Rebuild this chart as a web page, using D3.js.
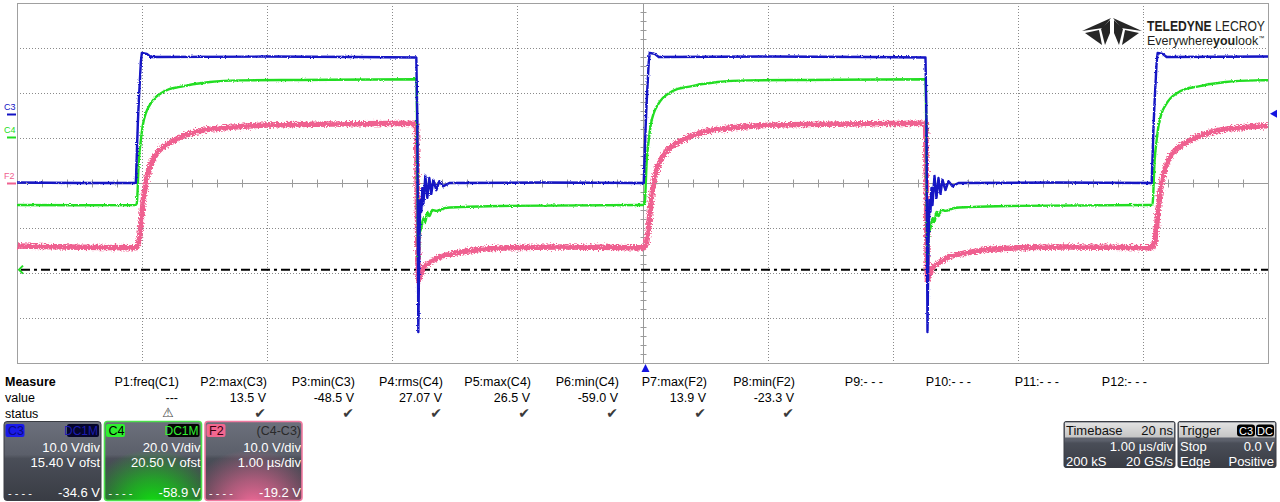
<!DOCTYPE html>
<html><head><meta charset="utf-8">
<script src="https://cdn.jsdelivr.net/npm/d3@7"></script>
<style>
body{margin:0;background:#fff;}
svg{display:block;font-family:"Liberation Sans",Arial,sans-serif;}
</style>
</head><body>
<svg id="chart" width="1280" height="502"></svg>
<script>
// ---------------- DATA ----------------
const timeDomain = [-5, 5];            // µs, 1.00 µs/div, 10 divisions
const channelNames = ["C3", "C4", "F2"];
const voltsPerDiv = [10, 20, 10];
const voltOffsets = [15.40, 20.50, 0];

// C3 trace: [time µs, volts]
const c3Trace = [
 [-5.00,-15.3],[-4.50,-15.4],[-4.050,-15.4],[-4.034,-2.1],[-4.026,3.0],[-4.010,11.5],[-4.002,13.5],
 [-3.962,13.3],[-3.930,12.6],[-3.00,12.7],[-2.30,12.6],[-1.808,12.5],[-1.800,-1.4],[-1.792,-48.5],
 [-1.784,-28.1],[-1.776,-19.2],[-1.768,-21.8],[-1.760,-16.5],[-1.752,-20.3],[-1.736,-13.8],[-1.720,-18.7],
 [-1.704,-14.3],[-1.688,-17.8],[-1.672,-14.7],[-1.648,-17.0],[-1.624,-15.0],[-1.592,-16.1],[-1.544,-15.4],
 [-0.80,-15.3],[0.010,-15.4],[0.026,-2.1],[0.034,3.0],[0.050,11.5],[0.058,13.5],[0.098,13.3],[0.130,12.6],
 [1.00,12.7],[1.80,12.6],[2.262,12.5],[2.270,-1.4],[2.278,-48.5],[2.286,-28.1],[2.294,-19.2],[2.302,-21.8],
 [2.310,-16.5],[2.318,-20.3],[2.334,-13.8],[2.350,-18.7],[2.366,-14.3],[2.382,-17.8],[2.398,-14.7],
 [2.422,-17.0],[2.446,-15.0],[2.478,-16.1],[2.526,-15.4],[3.30,-15.3],[4.070,-15.4],[4.086,-2.1],
 [4.094,3.0],[4.110,11.5],[4.118,13.5],[4.158,13.3],[4.190,12.6],[5.00,12.7]
];
// C4 trace
const c4Trace = [
 [-5.00,-30.3],[-4.50,-30.4],[-4.050,-30.3],[-4.042,-29.4],[-4.026,-10.3],[-4.010,-1.4],[-3.994,5.3],
 [-3.970,10.6],[-3.938,14.2],[-3.898,17.3],[-3.858,19.1],[-3.778,21.3],[-3.698,22.2],[-3.578,23.5],
 [-3.458,24.4],[-3.218,25.1],[-2.738,25.3],[-1.808,25.6],[-1.800,-5.8],[-1.792,-59.0],[-1.784,-43.6],
 [-1.768,-40.5],[-1.752,-36.1],[-1.736,-37.8],[-1.720,-33.4],[-1.704,-35.2],[-1.680,-32.5],[-1.648,-32.9],
 [-1.576,-31.6],[-1.456,-31.2],[-1.136,-30.7],[-0.016,-30.3],[0.010,-30.3],[0.018,-29.4],[0.034,-10.3],
 [0.050,-1.4],[0.066,5.3],[0.090,10.6],[0.122,14.2],[0.162,17.3],[0.202,19.1],[0.282,21.3],[0.362,22.2],
 [0.482,23.5],[0.602,24.4],[0.842,25.1],[1.322,25.3],[2.262,25.6],[2.270,-5.8],[2.278,-59.0],[2.286,-43.6],
 [2.302,-40.5],[2.318,-36.1],[2.334,-37.8],[2.350,-33.4],[2.366,-35.2],[2.390,-32.5],[2.422,-32.9],
 [2.494,-31.6],[2.614,-31.2],[2.934,-30.7],[4.054,-30.3],[4.070,-30.3],[4.078,-29.4],[4.094,-10.3],
 [4.110,-1.4],[4.126,5.3],[4.150,10.6],[4.182,14.2],[4.222,17.3],[4.262,19.1],[4.342,21.3],[4.422,22.2],
 [4.542,23.5],[4.662,24.4],[4.902,25.1],[5.00,25.15]
];
// F2 = C4-C3 trace
const f2Trace = [
 [-5.00,-14.0],[-4.50,-14.3],[-4.050,-14.4],[-4.034,-13.8],[-4.018,-11.6],[-4.002,-7.1],[-3.986,-2.9],
 [-3.970,0.2],[-3.946,2.9],[-3.914,5.1],[-3.874,6.9],[-3.810,8.4],[-3.690,10.2],[-3.530,11.6],[-3.290,12.4],
 [-2.970,12.9],[-2.490,13.1],[-1.808,13.3],[-1.800,-3.8],[-1.792,-21.5],[-1.776,-20.6],[-1.760,-19.3],
 [-1.736,-18.4],[-1.696,-17.6],[-1.616,-16.4],[-1.496,-15.6],[-1.336,-14.9],[-1.056,-14.4],[-0.656,-14.2],
 [0.010,-14.4],[0.026,-13.8],[0.042,-11.6],[0.058,-7.1],[0.074,-2.9],[0.090,0.2],[0.114,2.9],[0.146,5.1],
 [0.186,6.9],[0.250,8.4],[0.370,10.2],[0.530,11.6],[0.770,12.4],[1.090,12.9],[1.570,13.1],[2.262,13.3],
 [2.270,-3.8],[2.278,-21.5],[2.294,-20.6],[2.310,-19.3],[2.334,-18.4],[2.374,-17.6],[2.454,-16.4],
 [2.574,-15.6],[2.734,-14.9],[3.014,-14.4],[3.414,-14.2],[4.070,-14.4],[4.086,-13.8],[4.102,-11.6],
 [4.118,-7.1],[4.134,-2.9],[4.150,0.2],[4.174,2.9],[4.206,5.1],[4.246,6.9],[4.310,8.4],[4.430,10.2],
 [4.590,11.6],[4.830,12.4],[5.00,12.7]
];
const cursorLevelC4 = -59.0;   // dash-dot level line (C4 volts)
const triggerLevelC3 = 0.0;    // trigger level (C3 volts)
const triggerTime = 0;         // µs

// Measurement table
const measureNames = ["P1:freq(C1)","P2:max(C3)","P3:min(C3)","P4:rms(C4)","P5:max(C4)","P6:min(C4)",
  "P7:max(F2)","P8:min(F2)","P9:- - -","P10:- - -","P11:- - -","P12:- - -"];
const measureValues = ["---","13.5 V","-48.5 V","27.07 V","26.5 V","-59.0 V","13.9 V","-23.3 V","","","",""];
const measureStatus = ["warn","ok","ok","ok","ok","ok","ok","ok","","","",""];

// Channel descriptor boxes
const boxLabels = ["C3","C4","F2"];
const boxTags = ["DC1M","DC1M","(C4-C3)"];
const boxLine1 = ["10.0 V/div","20.0 V/div","10.0 V/div"];
const boxLine2 = ["15.40 V ofst","20.50 V ofst","1.00 µs/div"];
const boxReadout = ["-34.6 V","-58.9 V","-19.2 V"];

// Timebase / trigger
const timebaseRows = [["Timebase","20 ns"],["","1.00 µs/div"],["200 kS","20 GS/s"]];
const triggerRows = [["Trigger",""],["Stop","0.0 V"],["Edge","Positive"]];
const triggerTags = ["C3","DC"];

// ---------------- DRAW ----------------
const svg = d3.select("#chart");
const plot = {left:17, right:1268, top:3, bottom:363};
const colors = {C3:"#1212c4", C4:"#22dd22", F2:"#ef6190"};

const x = d3.scaleLinear().domain(timeDomain).range([plot.left, plot.right]);
const divY = d3.scaleLinear().domain([-4,4]).range([plot.bottom, plot.top]);
const yScales = channelNames.map((n,i)=>d3.scaleLinear()
  .domain([-voltOffsets[i]-4*voltsPerDiv[i], -voltOffsets[i]+4*voltsPerDiv[i]])
  .range([plot.bottom, plot.top]));
const [yC3, yC4, yF2] = yScales;

const defs = svg.append("defs");
defs.append("clipPath").attr("id","plotClip").append("rect")
  .attr("x",plot.left).attr("y",plot.top).attr("width",plot.right-plot.left).attr("height",plot.bottom-plot.top);

// acquisition-noise look (render effect only)
function noiseFilter(id, freq, scale, seed){
  const f = defs.append("filter").attr("id",id).attr("x","-2%").attr("y","-10%").attr("width","104%").attr("height","120%");
  f.append("feTurbulence").attr("type","fractalNoise").attr("baseFrequency",freq).attr("numOctaves",2).attr("seed",seed).attr("result","n");
  f.append("feDisplacementMap").attr("in","SourceGraphic").attr("in2","n").attr("scale",scale)
    .attr("xChannelSelector","R").attr("yChannelSelector","G");
}
noiseFilter("noisePink","0.6 0.9",6,3);
noiseFilter("noiseGreen","0.6 0.9",2.5,5);
noiseFilter("noiseBlue","0.6 0.9",2.5,7);

// grid
const g = svg.append("g");
const xDivs = x.ticks(10);
const yDivs = divY.ticks(8);
g.selectAll("line.vg").data(xDivs.filter(d=>d!==0 && d!==-5 && d!==5)).join("line")
  .attr("x1",d=>Math.round(x(d))+0.5).attr("x2",d=>Math.round(x(d))+0.5)
  .attr("y1",plot.top).attr("y2",plot.bottom)
  .attr("stroke","#8a8a8a").attr("stroke-dasharray","1,2");
g.selectAll("line.hg").data(yDivs.filter(d=>d!==0 && d!==-4 && d!==4)).join("line")
  .attr("y1",d=>Math.round(divY(d))+0.5).attr("y2",d=>Math.round(divY(d))+0.5)
  .attr("x1",plot.left).attr("x2",plot.right)
  .attr("stroke","#8a8a8a").attr("stroke-dasharray","1,2");
const cx = Math.round(x(0))+0.5, cy = Math.round(divY(0))+0.5;
g.append("line").attr("x1",cx).attr("x2",cx).attr("y1",plot.top).attr("y2",plot.bottom).attr("stroke","#9a9a9a");
g.append("line").attr("y1",cy).attr("y2",cy).attr("x1",plot.left).attr("x2",plot.right).attr("stroke","#9a9a9a");
const minorX = d3.range(-25,26).map(i=>i/5).filter(d=>Math.abs(d*5)%5!==0);
g.selectAll("line.mx").data(minorX).join("line")
  .attr("x1",d=>Math.round(x(d))+0.5).attr("x2",d=>Math.round(x(d))+0.5)
  .attr("y1",cy-4).attr("y2",cy+4).attr("stroke","#9a9a9a");
const minorY = d3.range(-20,21).map(i=>i/5).filter(d=>Math.abs(d*5)%5!==0);
g.selectAll("line.my").data(minorY).join("line")
  .attr("y1",d=>Math.round(divY(d))+0.5).attr("y2",d=>Math.round(divY(d))+0.5)
  .attr("x1",cx-3).attr("x2",cx+3).attr("stroke","#9a9a9a");
g.append("rect").attr("x",plot.left+0.5).attr("y",plot.top+0.5)
  .attr("width",plot.right-plot.left).attr("height",plot.bottom-plot.top)
  .attr("fill","none").attr("stroke","#a0a0a0");

// logo
const logo = svg.append("g");
logo.append("rect").attr("x",1080).attr("y",14).attr("width",188).attr("height",33).attr("fill","#fff");
const lg = "#262626";
const ic = 1112, it = 18;
[
 [[ic-1,it],[ic-30,it+13],[ic-9,it+10]],
 [[ic+1,it],[ic+30,it+13],[ic+9,it+10]],
 [[ic-2,it+2],[ic-11,it+11],[ic-7,it+27],[ic-2,it+15]],
 [[ic+2,it+2],[ic+11,it+11],[ic+7,it+27],[ic+2,it+15]],
 [[ic-13,it+12],[ic-27,it+15],[ic-10,it+27]],
 [[ic+13,it+12],[ic+27,it+15],[ic+10,it+27]]
].forEach(p=>logo.append("polygon").attr("points",p.map(q=>q.join(",")).join(" ")).attr("fill",lg));
logo.append("line").attr("x1",Math.round(x(4))+0.5).attr("x2",Math.round(x(4))+0.5).attr("y1",14).attr("y2",47)
  .attr("stroke","#8a8a8a").attr("stroke-dasharray","1,2");
const l1 = logo.append("g").attr("transform","translate(1147,31) scale(0.81,1)")
  .append("text").attr("x",0).attr("y",0).attr("font-size",15).attr("fill","#231f20");
l1.append("tspan").attr("font-weight","bold").text("TELEDYNE");
l1.append("tspan").text(" LECROY");
const l2 = logo.append("text").attr("x",1147).attr("y",44.5).attr("font-size",12.5).attr("fill","#231f20");
l2.append("tspan").text("Everywhere");
l2.append("tspan").attr("font-weight","bold").text("you");
l2.append("tspan").text("look");
l2.append("tspan").attr("font-size",6).attr("dy",-5).text("™");

// dash-dot cursor level
svg.append("line").attr("x1",plot.left+4).attr("x2",plot.right).attr("y1",yC4(cursorLevelC4)).attr("y2",yC4(cursorLevelC4))
  .attr("stroke","#000").attr("stroke-width",2).attr("stroke-dasharray","9,4,3,4");

// traces
const traces = svg.append("g").attr("clip-path","url(#plotClip)");
const mkLine = (ys, curve)=>d3.line().x(d=>x(d[0])).y(d=>ys(d[1])).curve(curve);
traces.append("g").attr("filter","url(#noisePink)").append("path").attr("d",mkLine(yF2,d3.curveMonotoneX)(f2Trace))
  .attr("fill","none").attr("stroke",colors.F2).attr("stroke-width",5.5).attr("stroke-linejoin","round");
traces.append("g").attr("filter","url(#noiseGreen)").append("path").attr("d",mkLine(yC4,d3.curveMonotoneX)(c4Trace))
  .attr("fill","none").attr("stroke",colors.C4).attr("stroke-width",2.4).attr("stroke-linejoin","round");
traces.append("g").attr("filter","url(#noiseBlue)").append("path").attr("d",mkLine(yC3,d3.curveLinear)(c3Trace))
  .attr("fill","none").attr("stroke",colors.C3).attr("stroke-width",2.4).attr("stroke-linejoin","round");

// left channel labels at their zero levels
channelNames.forEach((n,i)=>{
  const y0 = Math.round(yScales[i](0));
  svg.append("text").attr("x",4).attr("y",y0-4).attr("font-size",9).attr("fill",colors[n]).text(n);
  svg.append("line").attr("x1",7).attr("x2",16).attr("y1",y0+0.5).attr("y2",y0+0.5).attr("stroke",colors[n]).attr("stroke-width",2);
});
const ya = yC4(cursorLevelC4);
svg.append("path").attr("d",`M23,${ya-4} L19,${ya} L23,${ya+4}`).attr("fill","none").attr("stroke",colors.C4).attr("stroke-width",2);
const yt = yC3(triggerLevelC3);
svg.append("path").attr("d",`M1270,${yt} L1277,${yt-4} L1277,${yt+4} Z`).attr("fill","#1515e0");
const xt = x(triggerTime)+3;
svg.append("path").attr("d",`M${xt},364 L${xt+4},372 L${xt-4},372 Z`).attr("fill","#1515e0");

// measurement table
const mt = svg.append("g").attr("font-size",12.5).attr("fill","#000");
mt.append("text").attr("x",5).attr("y",386).attr("font-weight","bold").text("Measure");
mt.append("text").attr("x",5).attr("y",402).text("value");
mt.append("text").attr("x",5).attr("y",418).text("status");
measureNames.forEach((n,i)=>{
  const xr = 179 + i*88;
  mt.append("text").attr("x",xr).attr("y",386).attr("text-anchor","end").text(n);
  if (measureValues[i]) mt.append("text").attr("x",xr-1).attr("y",402).attr("text-anchor","end").text(measureValues[i]);
  if (measureStatus[i]==="ok") mt.append("text").attr("x",xr-1).attr("y",418).attr("text-anchor","end")
     .attr("font-family","DejaVu Sans").attr("font-size",14).attr("fill","#3a3a3a").text("✔");
  if (measureStatus[i]==="warn") mt.append("text").attr("x",xr-11).attr("y",417).attr("text-anchor","middle")
     .attr("font-family","DejaVu Sans").attr("font-size",13).attr("font-weight","bold").attr("fill","#444").text("⚠");
});

// gradients
const gg = defs.append("linearGradient").attr("id","boxGrey").attr("x1",0).attr("y1",0).attr("x2",0).attr("y2",1);
[[0,"#6c707c"],[0.42,"#5b5f6a"],[0.47,"#4a4e58"],[1,"#393c44"]].forEach(s=>gg.append("stop").attr("offset",s[0]).attr("stop-color",s[1]));
const glow = (id,c)=>{
  const r = defs.append("radialGradient").attr("id",id).attr("cx","50%").attr("cy","105%").attr("r","70%").attr("fx","50%").attr("fy","105%");
  r.append("stop").attr("offset",0).attr("stop-color",c).attr("stop-opacity",1);
  r.append("stop").attr("offset",0.45).attr("stop-color",c).attr("stop-opacity",0.6);
  r.append("stop").attr("offset",1).attr("stop-color",c).attr("stop-opacity",0);
};
glow("glowC4","#10e010"); glow("glowF2","#f06a98");
const hg = defs.append("linearGradient").attr("id","hdrGrey").attr("x1",0).attr("y1",0).attr("x2",0).attr("y2",1);
[[0,"#e2e2e2"],[1,"#c4c4c4"]].forEach(s=>hg.append("stop").attr("offset",s[0]).attr("stop-color",s[1]));

// channel boxes
const boxBorder = {C3:"#3a3d44", C4:"#4be04b", F2:"#f07aa0"};
const labelFill = {C3:"#1a1ae8", C4:"#2ef02e", F2:"#f2678f"};
const labelText = {C3:"#0a0a80", C4:"#000", F2:"#3a0010"};
boxLabels.forEach((n,i)=>{
  const bx = 4 + i*100.5, by = 421.5, bw = 97, bh = 79;
  const bg = svg.append("g");
  const cid = "bclip"+i;
  defs.append("clipPath").attr("id",cid).append("rect").attr("x",bx).attr("y",by).attr("width",bw).attr("height",bh).attr("rx",3);
  const inner = bg.append("g").attr("clip-path",`url(#${cid})`);
  inner.append("rect").attr("x",bx).attr("y",by).attr("width",bw).attr("height",bh).attr("fill","url(#boxGrey)");
  if (n==="C4") inner.append("rect").attr("x",bx).attr("y",by).attr("width",bw).attr("height",bh).attr("fill","url(#glowC4)");
  if (n==="F2") inner.append("rect").attr("x",bx).attr("y",by).attr("width",bw).attr("height",bh).attr("fill","url(#glowF2)");
  inner.append("rect").attr("x",bx+1.5).attr("y",by+2.5).attr("width",19).attr("height",13).attr("rx",2).attr("fill",labelFill[n]);
  inner.append("text").attr("x",bx+4).attr("y",by+13.5).attr("font-size",12.5).attr("fill",labelText[n]).text(n);
  if (boxTags[i]==="DC1M") {
    inner.append("rect").attr("x",bx+bw-34).attr("y",by+2.5).attr("width",32).attr("height",13).attr("rx",2).attr("fill",n==="C3"?"#05052a":"#050505");
    inner.append("text").attr("x",bx+bw-3).attr("y",by+13.5).attr("text-anchor","end").attr("font-size",12)
      .attr("fill",n==="C3"?"#1c1cb0":"#33ee33").text(boxTags[i]);
  } else {
    inner.append("text").attr("x",bx+bw-1).attr("y",by+13.5).attr("text-anchor","end").attr("font-size",12.5)
      .attr("fill","#2a2a2a").text(boxTags[i]);
  }
  inner.append("text").attr("x",bx+bw-1).attr("y",by+30).attr("text-anchor","end").attr("font-size",13).attr("fill","#fff").text(boxLine1[i]);
  inner.append("text").attr("x",bx+bw-1).attr("y",by+45).attr("text-anchor","end").attr("font-size",13).attr("fill","#fff").text(boxLine2[i]);
  inner.append("text").attr("x",bx+4).attr("y",by+75).attr("font-size",11).attr("fill","#fff").text("- - - -");
  inner.append("text").attr("x",bx+bw-1).attr("y",by+75).attr("text-anchor","end").attr("font-size",13).attr("fill","#fff").text(boxReadout[i]);
  bg.append("rect").attr("x",bx).attr("y",by).attr("width",bw).attr("height",bh).attr("rx",3)
    .attr("fill","none").attr("stroke",boxBorder[n]).attr("stroke-width",n==="C3"?1:1.6);
});

// timebase & trigger boxes
function infoBox(bx, bw, rows, tags){
  const by = 421.5, bh = 46;
  const b = svg.append("g");
  b.append("rect").attr("x",bx).attr("y",by).attr("width",bw).attr("height",bh).attr("rx",2).attr("fill","url(#boxGrey)").attr("stroke","#3a3d44");
  b.append("rect").attr("x",bx+1).attr("y",by+1).attr("width",bw-2).attr("height",15).attr("fill","url(#hdrGrey)");
  const ys = [by+13, by+29, by+44];
  rows.forEach((r,k)=>{
    const fill = k===0 ? "#111" : "#fff";
    if (r[0]) b.append("text").attr("x",bx+2).attr("y",ys[k]).attr("font-size",13).attr("fill",fill).text(r[0]);
    if (r[1]) b.append("text").attr("x",bx+bw-2).attr("y",ys[k]).attr("text-anchor","end").attr("font-size",13).attr("fill",fill).text(r[1]);
  });
  if (tags) tags.forEach((t,k)=>{
    const tx = bx+bw-39+k*19;
    b.append("rect").attr("x",tx).attr("y",by+3).attr("width",18).attr("height",12).attr("rx",3).attr("fill","#000");
    b.append("text").attr("x",tx+9).attr("y",by+13).attr("text-anchor","middle").attr("font-size",11).attr("fill","#fff").text(t);
  });
}
infoBox(1064, 111, timebaseRows, null);
infoBox(1178, 98, triggerRows, triggerTags);
</script>
</body></html>
